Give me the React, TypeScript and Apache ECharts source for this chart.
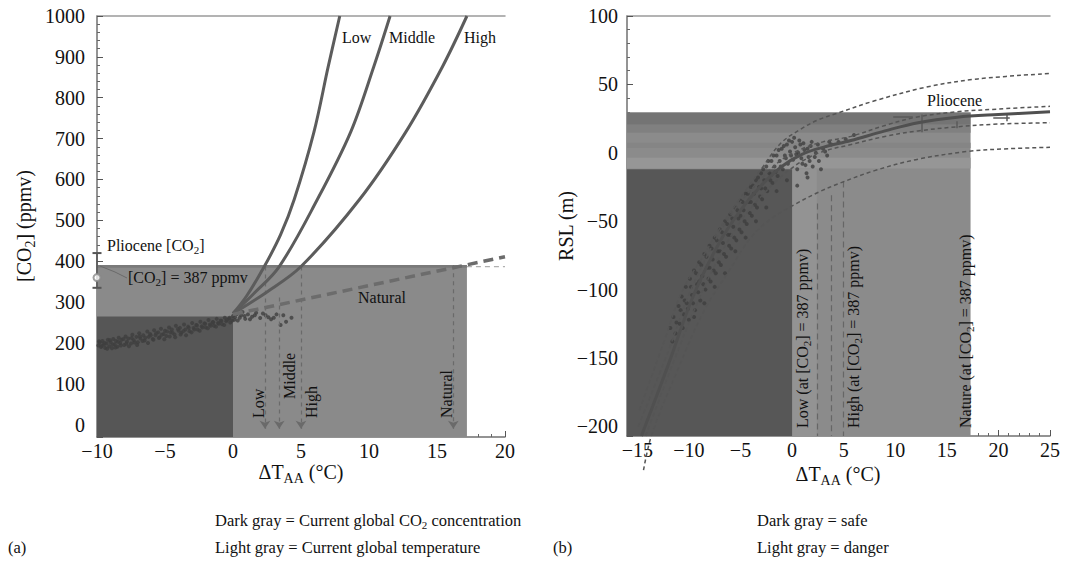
import React, { useEffect, useRef } from "react";
import * as echarts from "echarts";

const SERIF = "'Liberation Serif', 'Times New Roman', 'DejaVu Serif', serif";

// ---------------- Panel (a): [CO2] vs ΔT_AA ----------------
const aXMin = -10;
const aXMax = 20;
const aYMin = -30;
const aYMax = 1000;
const aLow: [number, number][] = [[0, 272], [1, 315], [2.3, 387], [3.5, 465], [4.5, 551], [5.95, 716], [7.0, 876], [7.85, 1000]];
const aMiddle: [number, number][] = [[0, 272], [1.5, 320], [3.4, 387], [6.2, 551], [8.65, 716], [10.35, 876], [11.55, 1000]];
const aHigh: [number, number][] = [[0, 272], [2.5, 325], [5.0, 387], [9.3, 551], [12.7, 716], [15.4, 876], [17.2, 1000]];
const aNatural: [number, number][] = [[0, 270], [20, 411]];
const aProxy: [number, number][] = [
  [-9.9, 194], [-9.8, 201], [-9.7, 190], [-9.6, 205], [-9.5, 196], [-9.4, 188], [-9.3, 199], [-9.2, 208], [-9.1, 192], [-9.0, 202],
  [-8.9, 187], [-8.8, 210], [-8.7, 197], [-8.6, 205], [-8.5, 191], [-8.4, 213], [-8.3, 200], [-8.2, 208], [-8.0, 195], [-7.9, 216],
  [-7.8, 203], [-7.7, 211], [-7.5, 199], [-7.4, 220], [-7.3, 207], [-7.1, 215], [-7.0, 202], [-6.9, 224], [-6.8, 211], [-6.6, 219],
  [-6.5, 206], [-6.3, 228], [-6.2, 215], [-6.1, 222], [-5.9, 210], [-5.8, 231], [-5.7, 219], [-5.5, 226], [-5.4, 214], [-5.3, 235],
  [-5.1, 222], [-5.0, 230], [-4.9, 217], [-4.7, 238], [-4.6, 226], [-4.5, 233], [-4.3, 221], [-4.2, 242], [-4.0, 230], [-3.9, 237],
  [-3.8, 225], [-3.6, 245], [-3.5, 233], [-3.3, 240], [-3.2, 229], [-3.0, 249], [-2.9, 237], [-2.7, 244], [-2.6, 233], [-2.4, 252],
  [-2.3, 241], [-2.1, 248], [-2.0, 238], [-1.8, 256], [-1.7, 245], [-1.5, 251], [-1.4, 242], [-1.2, 259], [-1.1, 249], [-0.9, 255],
  [-0.8, 246], [-0.6, 262], [-0.5, 253], [-0.3, 259], [-0.2, 250], [0.0, 266], [0.1, 257], [0.3, 271], [0.5, 262], [0.7, 276],
  [0.9, 259], [1.1, 270], [1.4, 264], [1.7, 274], [2.0, 261], [2.4, 268], [2.8, 258], [3.2, 270], [3.5, 244], [3.9, 252], [4.3, 262],
  [-9.85, 204], [-9.65, 193], [-9.45, 200], [-9.25, 186], [-9.05, 207], [-8.85, 196], [-8.65, 189], [-8.45, 203], [-8.25, 194], [-8.05, 210],
  [-7.85, 198], [-7.65, 192], [-7.45, 212], [-7.25, 201], [-7.05, 195], [-6.85, 216], [-6.65, 205], [-6.45, 213], [-6.25, 200], [-6.05, 219],
  [-5.85, 208], [-5.65, 224], [-5.45, 212], [-5.25, 220], [-5.05, 209], [-4.85, 228], [-4.65, 216], [-4.45, 225], [-4.25, 214], [-4.05, 234],
  [-3.85, 221], [-3.65, 229], [-3.45, 219], [-3.25, 237], [-3.05, 226], [-2.85, 233], [-2.65, 243], [-2.45, 230], [-2.25, 238], [-2.05, 247],
  [-1.85, 236], [-1.65, 242], [-1.45, 251], [-1.25, 240], [-1.05, 247], [-0.85, 254], [-0.65, 244], [-0.45, 256], [-0.25, 262], [-0.05, 255],
  [0.15, 263], [0.35, 255], [0.6, 268], [0.85, 266], [1.25, 258], [1.6, 268], [2.2, 272], [2.6, 263], [3.0, 262], [3.7, 268],
];
const aPlioBar: [number, number][] = [[-10, 335], [-10, 420]];
const aPlioMean: [number, number][] = [[-10, 360]];
const aRects: number[][] = [[-10, 17.2, -30, 390], [-10, 17.2, 384, 391], [-10, 0, -30, 265]];
const aRef387: [number, number][] = [[17.2, 387], [20, 387]];
const aArrowX = [2.35, 3.4, 5.0, 16.2];
const aArrowTop = [387, 311, 387, 390];
const aArrowBottom = -10;

// ---------------- Panel (b): RSL vs ΔT_AA ----------------
const bXMin = -16;
const bXMax = 25;
const bYMin = -207;
const bYMax = 100;
const bCenter: [number, number][] = [[-14.6, -207], [-12, -155], [-9.6, -105], [-7, -65], [-5, -42], [-3, -24], [-1, -10], [1, -1], [3, 4], [5.7, 9], [9, 16], [12.2, 22], [16, 26], [20, 28], [25, 30]];
const bInnerUp: [number, number][] = [[-14.9, -200], [-12, -145], [-9.8, -100], [-7, -58], [-5, -36], [-3, -19], [-1, -5], [1, 3], [3, 8], [5.7, 12], [9, 20], [12, 26], [16, 30], [20, 32], [25, 34]];
const bInnerLow: [number, number][] = [[-14.2, -207], [-11.6, -155], [-9.2, -110], [-7, -75], [-5, -50], [-3, -32], [-1, -17], [1, -6], [3, 1], [5.7, 6], [9, 12], [12.2, 16], [16, 19], [20, 21], [25, 22]];
const bOuterUp: [number, number][] = [[-14.8, -188], [-12.5, -140], [-10.7, -102], [-8.5, -74], [-6.9, -54], [-5, -33], [-3, -12], [-1.1, 7], [1, 18], [2.5, 24], [4.4, 29], [8, 38], [13, 48], [18, 54], [25, 58]];
const bOuterLow: [number, number][] = [[-14.4, -232], [-13.6, -206], [-11, -157], [-8.5, -115], [-6, -85], [-4, -62], [-2, -48], [0.2, -38], [2.5, -29], [4.7, -22], [8, -13], [12, -5], [17, 1], [21, 3], [25, 4]];
const bProxy: [number, number][] = [
  [-11.8, -128], [-11.5, -120], [-11.3, -132], [-11.0, -112], [-10.9, -125], [-10.7, -105], [-10.5, -118], [-10.3, -98], [-10.2, -110], [-10.0, -122],
  [-9.9, -92], [-9.7, -104], [-9.5, -86], [-9.4, -115], [-9.2, -96], [-9.0, -80], [-8.9, -108], [-8.7, -90], [-8.5, -74], [-8.4, -100],
  [-8.2, -84], [-8.0, -68], [-7.9, -94], [-7.7, -78], [-7.5, -62], [-7.4, -88], [-7.2, -72], [-7.0, -56], [-6.9, -82], [-6.7, -66],
  [-6.5, -50], [-6.4, -76], [-6.2, -60], [-6.0, -45], [-5.9, -70], [-5.7, -54], [-5.5, -40], [-5.4, -64], [-5.2, -48], [-5.0, -35],
  [-4.9, -58], [-4.7, -42], [-4.5, -30], [-4.4, -52], [-4.2, -36], [-4.0, -25], [-3.9, -46], [-3.7, -30], [-3.5, -20], [-3.4, -40],
  [-3.2, -25], [-3.0, -15], [-2.9, -34], [-2.7, -20], [-2.5, -10], [-2.4, -28], [-2.2, -15], [-2.0, -6], [-1.9, -22], [-1.7, -10],
  [-1.5, -2], [-1.4, -17], [-1.2, -6], [-1.0, 3], [-0.9, -12], [-0.7, -2], [-0.5, 6], [-0.4, -8], [-0.2, 1], [0.0, 8],
  [0.1, -5], [0.3, 4], [0.5, -12], [0.6, 0], [0.8, 6], [1.0, -8], [1.2, 2], [1.4, -15], [1.6, -3], [1.8, 5],
  [2.0, -10], [2.3, 0], [2.6, -6], [3.0, 3], [3.4, -2], [3.8, 6], [4.5, 8], [5.2, 10], [6.0, 13],
  [-11.6, -138], [-11.2, -124], [-10.8, -115], [-10.6, -128], [-10.4, -108], [-10.1, -114], [-9.8, -98], [-9.6, -110], [-9.3, -88], [-9.1, -102],
  [-8.8, -82], [-8.6, -96], [-8.3, -76], [-8.1, -92], [-7.8, -70], [-7.6, -86], [-7.3, -64], [-7.1, -80], [-6.8, -58], [-6.6, -74],
  [-6.3, -52], [-6.1, -68], [-5.8, -48], [-5.6, -62], [-5.3, -42], [-5.1, -56], [-4.8, -36], [-4.6, -50], [-4.3, -30], [-4.1, -44],
  [-3.8, -24], [-3.6, -38], [-3.3, -18], [-3.1, -32], [-2.8, -12], [-2.6, -26], [-2.3, -6], [-2.1, -20], [-1.8, -2], [-1.6, -14],
  [-1.3, 2], [-1.1, -10], [-0.8, 5], [-0.6, -4], [-0.3, 9], [-0.1, -2], [0.2, 11], [0.4, -1], [0.7, 9], [0.9, -4],
  [1.1, 7], [1.3, -9], [1.5, 3], [1.7, -6], [1.9, 8], [2.2, -3], [2.5, 6], [2.8, -12], [3.2, 1], [3.6, 8],
  [-1.5, -28], [-0.5, -20], [0.5, -24], [1.5, -18], [-2.5, -40], [-3.5, -50], [-4.5, -62], [-5.5, -72], [-6.5, -88], [-7.5, -98],
  [-8.5, -110], [-9.5, -120], [-6.0, -60], [-7.0, -72], [-8.0, -84], [-9.0, -94], [-5.0, -46], [-4.0, -36], [-3.0, -26], [-2.0, -16],
];
const bPlioSegments: [number, number][][] = [
  [[9.8, 26], [11.7, 26]], [[12.6, 15], [12.6, 28]], [[16, 18], [16, 23]], [[19.5, 25.6], [21.1, 25.6]], [[20.8, 23], [20.8, 28]],
];
const bRects: number[][] = [
  [-16, 17.3, -207, 29.5], [-16, 17.3, 20.5, 29.5], [-16, 17.3, 14.6, 20.5], [-16, 17.3, 3.6, 7.3], [-16, 17.3, -11.5, -3.7],
  [0, 2.4, -207, -12], [-16, 0, -207, -12],
];
const bDashX = [2.4, 3.8, 5.0];
const bDashTop = [-37, -31, -21];

// ---------------- styles ----------------
const aRectColors = ["#8a8a8a", "#7a7a7a", "#565656"];
const bRectColors = ["#8b8b8b", "#747474", "#808080", "#858585", "#969696", "#939393", "#575757"];

const minus = (v: number) => String(v).replace("-", "\u2212");

function rich(size: number) {
  const sub = Math.round(size * 0.68);
  return {
    n: { fontSize: size, fontFamily: SERIF, fill: "#111", lineHeight: Math.round(size * 1.3), verticalAlign: "middle" },
    s: { fontSize: sub, fontFamily: SERIF, fill: "#111", lineHeight: sub, verticalAlign: "bottom" },
  };
}

function txt(x: number, y: number, text: string, size: number, opt: any = {}) {
  return {
    type: "text",
    x,
    y,
    rotation: opt.rot || 0,
    silent: true,
    z: 100,
    style: {
      text,
      fill: "#111",
      fontSize: size,
      fontFamily: SERIF,
      align: opt.align || "left",
      verticalAlign: opt.va || "middle",
      rich: rich(size),
    },
  };
}

function rectSeries(xi: number, yi: number, rects: number[][], colors: string[], z: number) {
  return {
    type: "custom",
    xAxisIndex: xi,
    yAxisIndex: yi,
    silent: true,
    z,
    renderItem: (_p: any, api: any) => {
      const a = api.coord([api.value(0), api.value(3)]);
      const b = api.coord([api.value(1), api.value(2)]);
      return {
        type: "rect",
        shape: { x: a[0], y: a[1], width: b[0] - a[0], height: b[1] - a[1] },
        style: { fill: api.visual("color") },
      };
    },
    data: rects.map((r, i) => ({ value: r, itemStyle: { color: colors[i] } })),
  };
}

function curve(data: any, xi: number, yi: number, color: string, width: number, dash: any, z: number, clip = true) {
  return {
    type: "line",
    data,
    xAxisIndex: xi,
    yAxisIndex: yi,
    symbol: "none",
    showSymbol: false,
    smooth: 0.35,
    silent: true,
    clip,
    z,
    lineStyle: { color, width, type: dash },
  };
}

const tickLabel = { fontFamily: SERIF, fontSize: 20, color: "#111", formatter: minus };

function xAxisMain(grid: number, min: number, max: number, extra: any) {
  const { hideMin, ...rest } = extra;
  return {
    type: "value",
    gridIndex: grid,
    position: "bottom",
    min,
    max,
    ...rest,
    axisLine: { show: true, onZero: false, lineStyle: { color: "#707070", width: 1.5 } },
    axisTick: { show: true, inside: true, length: 6, lineStyle: { color: "#555" } },
    minorTick: { show: true, splitNumber: 5, length: 3, lineStyle: { color: "#666" } },
    splitLine: { show: false },
    axisLabel: { ...tickLabel, margin: 4, showMinLabel: hideMin ? false : true },
  };
}

function xAxisTop(grid: number, min: number, max: number) {
  return {
    type: "value",
    gridIndex: grid,
    position: "top",
    min,
    max,
    axisLine: { show: true, onZero: false, lineStyle: { color: "#9a9a9a", width: 1.5 } },
    axisTick: { show: false },
    axisLabel: { show: false },
    splitLine: { show: false },
  };
}

function yAxisMain(grid: number, min: number, max: number, split: number, margin: number) {
  return {
    type: "value",
    gridIndex: grid,
    position: "left",
    min,
    max,
    splitNumber: split,
    axisLine: { show: true, onZero: false, lineStyle: { color: "#707070", width: 1.5 } },
    axisTick: { show: true, inside: true, length: 6, lineStyle: { color: "#555" } },
    minorTick: { show: true, splitNumber: 5, length: 3, lineStyle: { color: "#666" } },
    splitLine: { show: false },
    axisLabel: { ...tickLabel, margin, showMinLabel: false },
  };
}

function buildOption() {
  const graphic: any[] = [
    // Panel (a) texts
    txt(24, 226, "{n|[CO}{s|2}{n|] (ppmv)}", 20, { rot: Math.PI / 2, align: "center" }),
    txt(301, 472, "{n|ΔT}{s|AA}{n| (°C)}", 20, { align: "center" }),
    txt(342, 37, "Low", 16),
    txt(389, 37, "Middle", 16),
    txt(464, 37, "High", 16),
    txt(107, 245, "{n|Pliocene [CO}{s|2}{n|]}", 16),
    txt(128, 277, "{n|[CO}{s|2}{n|] = 387 ppmv}", 16),
    txt(358, 297, "Natural", 16),
    txt(258, 418, "Low", 16, { rot: Math.PI / 2 }),
    txt(289, 399, "Middle", 16, { rot: Math.PI / 2 }),
    txt(311, 418, "High", 16, { rot: Math.PI / 2 }),
    txt(446, 418, "Natural", 16, { rot: Math.PI / 2 }),
    // Panel (b) texts
    txt(566, 226, "RSL (m)", 20, { rot: Math.PI / 2, align: "center" }),
    txt(838, 474, "{n|ΔT}{s|AA}{n| (°C)}", 20, { align: "center" }),
    txt(927, 100, "Pliocene", 16),
    txt(802, 428, "{n|Low (at [CO}{s|2}{n|] = 387 ppmv)}", 16, { rot: Math.PI / 2 }),
    txt(853, 428, "{n|High (at [CO}{s|2}{n|] = 387 ppmv)}", 16, { rot: Math.PI / 2 }),
    txt(965, 428, "{n|Nature (at [CO}{s|2}{n|] = 387 ppmv)}", 16, { rot: Math.PI / 2 }),
    // captions
    txt(215, 520, "{n|Dark gray = Current global CO}{s|2}{n| concentration}", 16.5),
    txt(215, 547, "Light gray = Current global temperature", 16.5),
    txt(8, 547, "(a)", 16.5),
    txt(553, 547, "(b)", 16.5),
    txt(757, 520, "Dark gray = safe", 16.5),
    txt(757, 547, "Light gray = danger", 16.5),
    {
      type: "polyline",
      silent: true,
      z: 90,
      shape: { points: [[100, 266], [115, 272], [127, 278]] },
      style: { stroke: "#6a6a6a", lineWidth: 1, fill: null },
    },
  ];

  const series: any[] = [
    rectSeries(0, 0, aRects, aRectColors, 1),
    rectSeries(2, 1, bRects, bRectColors, 1),
    // Panel (a)
    {
      type: "scatter",
      data: aProxy,
      xAxisIndex: 0,
      yAxisIndex: 0,
      symbol: "circle",
      symbolSize: 4,
      silent: true,
      z: 3,
      itemStyle: { color: "#3e3e3e" },
    },
    curve(aLow, 0, 0, "#5c5c5c", 3, "solid", 5),
    curve(aMiddle, 0, 0, "#5c5c5c", 3, "solid", 5),
    curve(aHigh, 0, 0, "#5c5c5c", 3, "solid", 5),
    {
      ...curve(aNatural, 0, 0, "#6c6c6c", 3.5, [10, 6], 5),
      smooth: false,
      markLine: {
        silent: true,
        symbol: ["none", "arrow"],
        symbolSize: 8,
        label: { show: false },
        lineStyle: { type: [4, 4], color: "#6a6a6a", width: 1.2 },
        data: aArrowX.map((x, i) => [{ coord: [x, aArrowTop[i]] }, { coord: [x, aArrowBottom] }]),
      },
    },
    {
      ...curve(aRef387, 0, 0, "#b0b0b0", 1.2, [5, 4], 4),
      smooth: false,
    },
    {
      type: "line",
      data: aPlioBar,
      xAxisIndex: 0,
      yAxisIndex: 0,
      symbol: "rect",
      symbolSize: [9, 2],
      showSymbol: true,
      clip: false,
      silent: true,
      z: 6,
      itemStyle: { color: "#555" },
      lineStyle: { color: "#555", width: 1.5 },
    },
    {
      type: "scatter",
      data: aPlioMean,
      xAxisIndex: 0,
      yAxisIndex: 0,
      symbol: "emptyCircle",
      symbolSize: 7,
      clip: false,
      silent: true,
      z: 7,
      itemStyle: { color: "#888", borderColor: "#555", borderWidth: 1.2 },
    },
    // Panel (b)
    {
      type: "scatter",
      data: bProxy,
      xAxisIndex: 2,
      yAxisIndex: 1,
      symbol: "circle",
      symbolSize: 4,
      silent: true,
      z: 3,
      itemStyle: { color: "#3e3e3e" },
    },
    {
      ...curve(bCenter, 2, 1, "#505050", 3, "solid", 5, false),
      markLine: {
        silent: true,
        symbol: ["none", "none"],
        label: { show: false },
        lineStyle: { type: "solid", color: "#5a5a5a", width: 1.5 },
        data: bPlioSegments.map((s) => [{ coord: s[0] }, { coord: s[1] }]),
      },
    },
    curve(bInnerUp, 2, 1, "#555", 1.5, [4, 3], 5),
    curve(bInnerLow, 2, 1, "#555", 1.5, [4, 3], 5),
    curve(bOuterUp, 2, 1, "#555", 1.5, [4, 3], 5),
    {
      ...curve(bOuterLow, 2, 1, "#555", 1.5, [4, 3], 5, false),
      markLine: {
        silent: true,
        symbol: ["none", "none"],
        label: { show: false },
        lineStyle: { type: [6, 4], color: "#666", width: 1.2 },
        data: bDashX.map((x, i) => [{ coord: [x, bDashTop[i]] }, { coord: [x, bYMin] }]),
      },
    },
  ];

  return {
    animation: false,
    backgroundColor: "#ffffff",
    grid: [
      { left: 97, top: 16, width: 408, height: 421 },
      { left: 627, top: 16, width: 423, height: 420 },
    ],
    xAxis: [
      xAxisMain(0, aXMin, aXMax, { interval: 5 }),
      xAxisTop(0, aXMin, aXMax),
      xAxisMain(1, bXMin, bXMax, { splitNumber: 8, hideMin: true }),
      xAxisTop(1, bXMin, bXMax),
    ],
    yAxis: [
      yAxisMain(0, aYMin, aYMax, 10, 12),
      yAxisMain(1, bYMin, bYMax, 6, 9),
    ],
    series,
    graphic,
  };
}

export default function App() {
  const ref = useRef<HTMLDivElement>(null);
  useEffect(() => {
    const chart = echarts.init(ref.current as HTMLDivElement, null, { renderer: "svg" });
    chart.setOption(buildOption() as any);
    return () => chart.dispose();
  }, []);
  return (
    <div
      ref={ref}
      style={{ position: "fixed", left: 0, top: 0, width: 1068, height: 564, background: "#fff" }}
    />
  );
}
